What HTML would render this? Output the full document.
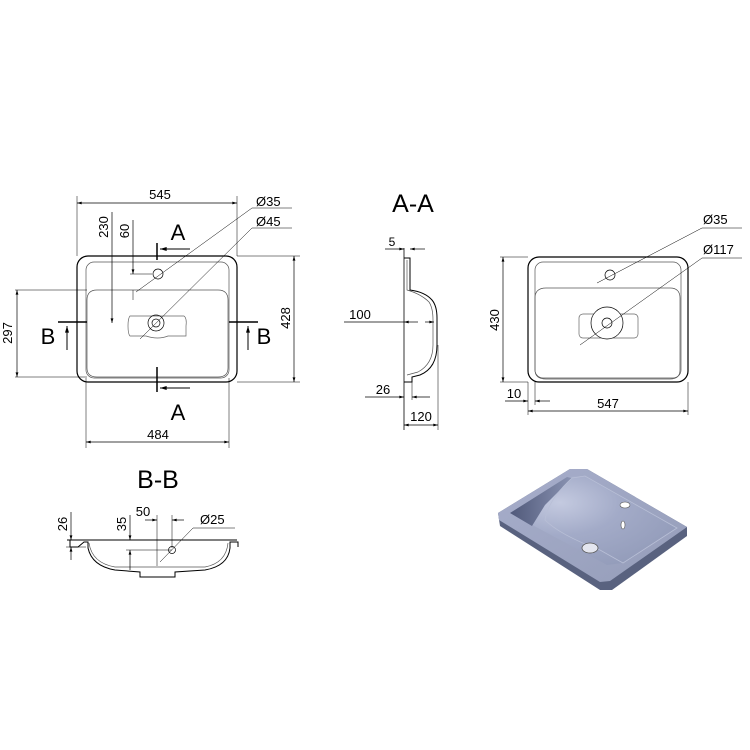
<!DOCTYPE html>
<html><head><style>html,body{margin:0;padding:0;background:#fff}svg{display:block}</style></head>
<body>
<svg width="750" height="750" viewBox="0 0 750 750" xmlns="http://www.w3.org/2000/svg" font-family="Liberation Sans, sans-serif">
<defs>
<marker id="a" viewBox="0 0 10 6" refX="10" refY="3" markerWidth="8" markerHeight="4" orient="auto-start-reverse"><path d="M0,0L10,3L0,6z" fill="#000"/></marker>
<linearGradient id="g1" x1="0" y1="0" x2="1" y2="1"><stop offset="0" stop-color="#a7aecb"/><stop offset="1" stop-color="#959db9"/></linearGradient>
<radialGradient id="g2" cx="0.3" cy="0.3" r="0.9"><stop offset="0" stop-color="#c4cae0"/><stop offset="0.4" stop-color="#a3abc8"/><stop offset="1" stop-color="#8f98b6"/></radialGradient>
<linearGradient id="g3" x1="0" y1="0" x2="1" y2="0"><stop offset="0" stop-color="#50597a"/><stop offset="1" stop-color="#8a93b2"/></linearGradient>
</defs>
<g fill="none" stroke="#000" stroke-width="0.7">
<rect x="77" y="256" width="160" height="126" rx="11" stroke-width="1.2"/>
<rect x="86" y="262" width="143" height="116" rx="8" stroke="#555"/>
<path d="M87,300 Q87,290 97,290 L218,290 Q228,290 228,300 L228,368 Q228,377 218,377 L97,377 Q87,377 87,368Z" stroke="#555"/>
<circle cx="158" cy="274" r="5"/>
<path d="M130,316 L184,316 Q187,318 186,326 L186,336 L168,336 Q158,340 146,336 L130,336 Q128,334 128,326 Q128,318 130,316Z" stroke="#666"/>
<circle cx="156" cy="323" r="8"/><circle cx="156" cy="323" r="4"/>
<path d="M77,256V196M237,256V196M86,378V448M229,378V448" stroke-width="0.5"/>
<line x1="77" y1="203" x2="237" y2="203" marker-start="url(#a)" marker-end="url(#a)"/>
<line x1="86" y1="442" x2="229" y2="442" marker-start="url(#a)" marker-end="url(#a)"/>
<path d="M15,290H87M15,377H87M237,256H300M237,382H300" stroke-width="0.5"/>
<line x1="17" y1="290" x2="17" y2="377" marker-start="url(#a)" marker-end="url(#a)"/>
<line x1="294" y1="256" x2="294" y2="382" marker-start="url(#a)" marker-end="url(#a)"/>
<line x1="112" y1="212" x2="112" y2="323" marker-end="url(#a)"/>
<line x1="133" y1="220" x2="133" y2="274" marker-end="url(#a)"/>
<path d="M130,274H152M133,290V300" stroke-width="0.5"/>
<path d="M157,243V260M157,367V392M58,322H87M229,322H258" stroke-width="1.5"/>
<line x1="190" y1="249" x2="160" y2="249" marker-end="url(#a)" stroke-width="1"/>
<line x1="190" y1="388" x2="160" y2="388" marker-end="url(#a)" stroke-width="1"/>
<line x1="67" y1="350" x2="67" y2="326" marker-end="url(#a)" stroke-width="1"/>
<line x1="248" y1="350" x2="248" y2="326" marker-end="url(#a)" stroke-width="1"/>
<path d="M292,208H252L136,292" stroke-width="0.5"/>
<path d="M292,228H252L140,339" stroke-width="0.5"/>
<line x1="404" y1="248" x2="404" y2="430" stroke-width="0.8"/>
<path d="M404,258H410V290Q425,292 432,300Q437,306 437,318V345Q437,368 420,375L412,377V382H404" stroke-width="1"/>
<path d="M407,260V290Q421,294 429,302Q433,308 433,320V345Q433,364 418,372L407,375" stroke="#555"/>
<line x1="385" y1="249" x2="404" y2="249" marker-end="url(#a)"/>
<line x1="425" y1="249" x2="410" y2="249" marker-end="url(#a)"/>
<line x1="344" y1="322" x2="404" y2="322"/>
<line x1="418" y1="322" x2="404" y2="322" marker-end="url(#a)"/>
<line x1="425" y1="322" x2="434" y2="322" marker-end="url(#a)"/>
<line x1="365" y1="397" x2="404" y2="397" marker-end="url(#a)"/>
<line x1="430" y1="397" x2="412" y2="397" marker-end="url(#a)"/>
<path d="M412,382V400M438,345V430" stroke-width="0.5"/>
<line x1="404" y1="425" x2="438" y2="425" marker-start="url(#a)" marker-end="url(#a)"/>
<rect x="528" y="257" width="160" height="125" rx="11" stroke-width="1.2"/>
<rect x="535" y="262" width="146" height="116" rx="8" stroke="#555"/>
<path d="M535,298Q535,288 546,288L670,288Q680,288 680,298L680,370Q680,379 670,379L546,379Q535,379 535,370Z" stroke="#555"/>
<circle cx="610" cy="275" r="5"/>
<rect x="579" y="314" width="59" height="24" rx="4" stroke="#666"/>
<circle cx="607" cy="323" r="16" fill="#fff"/><circle cx="607" cy="323" r="5"/>
<path d="M500,257H528M500,382H528M528,382V415M688,382V415M535,382V405" stroke-width="0.5"/>
<line x1="503" y1="257" x2="503" y2="382" marker-start="url(#a)" marker-end="url(#a)"/>
<line x1="505" y1="401" x2="528" y2="401" marker-end="url(#a)"/>
<line x1="550" y1="401" x2="535" y2="401" marker-end="url(#a)"/>
<line x1="528" y1="411" x2="688" y2="411" marker-start="url(#a)" marker-end="url(#a)"/>
<path d="M742,228H702L597,283" stroke-width="0.5"/>
<path d="M742,258H702L580,345" stroke-width="0.5"/>
<line x1="67" y1="540" x2="237" y2="540" stroke-width="1"/>
<path d="M70,540V547H78L84,542H88V548Q92,566 115,570L140,572V577H175V572L205,570Q228,566 230,548V542H238V547" stroke-width="1"/>
<path d="M89,543Q92,563 115,567L205,567Q226,563 228,543" stroke="#555"/>
<circle cx="172" cy="550" r="3.5"/>
<line x1="71" y1="512" x2="71" y2="540" marker-end="url(#a)"/>
<line x1="71" y1="560" x2="71" y2="547" marker-end="url(#a)"/>
<path d="M66,547H86" stroke-width="0.5"/>
<line x1="130" y1="515" x2="130" y2="540" marker-end="url(#a)"/>
<line x1="130" y1="570" x2="130" y2="550" marker-end="url(#a)"/>
<path d="M126,550H172M157,515V566M172,515V548" stroke-width="0.5"/>
<line x1="145" y1="520" x2="157" y2="520" marker-end="url(#a)"/>
<line x1="184" y1="520" x2="172" y2="520" marker-end="url(#a)"/>
<path d="M193,528H235M193,528L160,562" stroke-width="0.5"/>
</g>
<!-- 3D -->
<path d="M498,513L570,469L587,469L687,527L687,536L612,590L600,590L500,526Z" fill="#59627f"/>
<path d="M498,513L570,469L587,469L687,527L610,581L600,582L499,520Z" fill="url(#g1)"/>
<path d="M510,513L567,477L585,476L677,528L623,563L607,565Z" fill="url(#g2)"/>
<path d="M510,513L567,477L572,478L545,505L532,526Z" fill="url(#g3)"/>
<path d="M572,478Q548,500 545,520Q560,535 600,550L623,563L677,528L585,476Z" fill="none" stroke="#b8bfd6" stroke-width="0.8"/>
<ellipse cx="625" cy="505" rx="5" ry="3" fill="#fff" stroke="#555" stroke-width="0.6"/>
<ellipse cx="623" cy="525" rx="2" ry="4" fill="#fff" stroke="#555" stroke-width="0.6"/>
<ellipse cx="590" cy="548" rx="8" ry="5" fill="#e4e6ef" stroke="#555" stroke-width="0.8"/>
<g fill="#000">
<text x="160" y="199" font-size="13" text-anchor="middle">545</text>
<text x="158" y="439" font-size="13" text-anchor="middle">484</text>
<text x="178" y="240" font-size="22" text-anchor="middle">A</text>
<text x="178" y="420" font-size="22" text-anchor="middle">A</text>
<text x="48" y="344" font-size="22" text-anchor="middle">B</text>
<text x="264" y="344" font-size="22" text-anchor="middle">B</text>
<text x="256" y="206" font-size="13">Ø35</text>
<text x="256" y="226" font-size="13">Ø45</text>
<text transform="translate(12,333) rotate(-90)" font-size="13" text-anchor="middle">297</text>
<text transform="translate(290,318) rotate(-90)" font-size="13" text-anchor="middle">428</text>
<text transform="translate(108,227) rotate(-90)" font-size="13" text-anchor="middle">230</text>
<text transform="translate(129,231) rotate(-90)" font-size="13" text-anchor="middle">60</text>
<text x="413" y="212" font-size="25" text-anchor="middle">A-A</text>
<text x="392" y="246" font-size="12" text-anchor="middle">5</text>
<text x="360" y="319" font-size="13" text-anchor="middle">100</text>
<text x="383" y="394" font-size="13" text-anchor="middle">26</text>
<text x="421" y="421" font-size="13" text-anchor="middle">120</text>
<text transform="translate(499,320) rotate(-90)" font-size="13" text-anchor="middle">430</text>
<text x="514" y="398" font-size="13" text-anchor="middle">10</text>
<text x="608" y="408" font-size="13" text-anchor="middle">547</text>
<text x="703" y="224" font-size="13">Ø35</text>
<text x="703" y="254" font-size="13">Ø117</text>
<text x="158" y="488" font-size="25" text-anchor="middle">B-B</text>
<text transform="translate(67,524) rotate(-90)" font-size="13" text-anchor="middle">26</text>
<text transform="translate(126,524) rotate(-90)" font-size="13" text-anchor="middle">35</text>
<text x="143" y="516" font-size="13" text-anchor="middle">50</text>
<text x="200" y="524" font-size="13">Ø25</text>
</g>
</svg>
</body></html>
